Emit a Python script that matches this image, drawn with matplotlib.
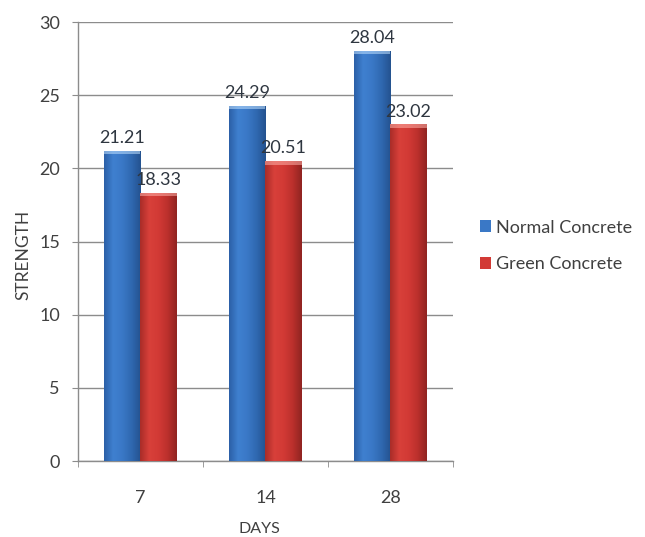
import numpy as np
import matplotlib
matplotlib.use("Agg")
import matplotlib.pyplot as plt
from matplotlib.colors import LinearSegmentedColormap

days = ["7", "14", "28"]
normal_concrete = [21.21, 24.29, 28.04]
green_concrete = [18.33, 20.51, 23.02]
series_names = ["Normal Concrete", "Green Concrete"]

plt.rcParams["font.family"] = ["Lato", "DejaVu Sans"]

fig = plt.figure(figsize=(6.45, 5.37), dpi=100)
ax = fig.add_axes([0.1209, 0.1415, 0.5814, 0.8175])

x = np.arange(len(days))
width = 0.29

blue_cmap = LinearSegmentedColormap.from_list(
    "blue_grad", ["#2b5fa6", "#3f80d0", "#3a78c6", "#2f68b0", "#24528f"])
red_cmap = LinearSegmentedColormap.from_list(
    "red_grad", ["#a82c28", "#d8403a", "#d23a35", "#bb302c", "#8f2421"])


def shade_bars(bars, cmap, cap_color):
    grad = np.linspace(0, 1, 256).reshape(1, -1)
    for b in bars:
        x0, y0 = b.get_x(), b.get_y()
        w, h = b.get_width(), b.get_height()
        im = ax.imshow(grad, cmap=cmap, aspect="auto",
                       extent=(x0, x0 + w, y0, y0 + h), zorder=3,
                       interpolation="bicubic")
        im.set_clip_path(b)
        # thin light band along the top edge
        ax.fill_between([x0, x0 + w], y0 + h - 0.25, y0 + h,
                        color=cap_color, alpha=0.55, zorder=4, lw=0)


bars_n = ax.bar(x - width / 2, normal_concrete, width, color="#3a78c6",
                label=series_names[0], zorder=2, lw=0)
bars_g = ax.bar(x + width / 2, green_concrete, width, color="#d23a35",
                label=series_names[1], zorder=2, lw=0)
shade_bars(bars_n, blue_cmap, "#bfe0ff")
shade_bars(bars_g, red_cmap, "#ffb0a8")

for bars, vals in ((bars_n, normal_concrete), (bars_g, green_concrete)):
    for b, v in zip(bars, vals):
        ax.text(b.get_x() + b.get_width() / 2, v + 0.3, f"{v:.2f}",
                ha="center", va="bottom", fontsize=13, color="#2e3640",
                zorder=5)

ax.set_xlim(-0.5, len(days) - 0.5)
ax.set_ylim(0, 30)
ax.set_yticks(np.arange(0, 31, 5))
ax.set_xticks(x)
ax.set_xticklabels(days)
ax.set_xticks(np.arange(-0.5, len(days), 1.0), minor=True)
ax.tick_params(axis="x", which="major", length=0, pad=21,
               labelsize=13, labelcolor="#404040")
ax.tick_params(axis="x", which="minor", length=4, color="#8c8c8c",
               direction="out")
ax.tick_params(axis="y", length=4, color="#8c8c8c", labelsize=13,
               labelcolor="#404040", pad=9)
ax.yaxis.grid(True, color="#8c8c8c", lw=1.0, zorder=0)
ax.set_axisbelow(True)
for s in ("top", "right"):
    ax.spines[s].set_visible(False)
for s in ("left", "bottom"):
    ax.spines[s].set_color("#8c8c8c")
    ax.spines[s].set_linewidth(1.0)

ax.set_xlabel("DAYS", fontsize=11.5, color="#404040")
ax.set_ylabel("STRENGTH", fontsize=12.5, color="#404040")
ax.xaxis.set_label_coords(0.483, -0.139)
ax.yaxis.set_label_coords(-0.125, 0.469)

leg = ax.legend(loc="center left", bbox_to_anchor=(1.03, 0.49),
                frameon=False, fontsize=13, handlelength=0.6,
                handleheight=0.6, handletextpad=0.25, labelspacing=1.15,
                labelcolor="#404040")

fig.savefig("out.png", dpi=100, facecolor="white")
